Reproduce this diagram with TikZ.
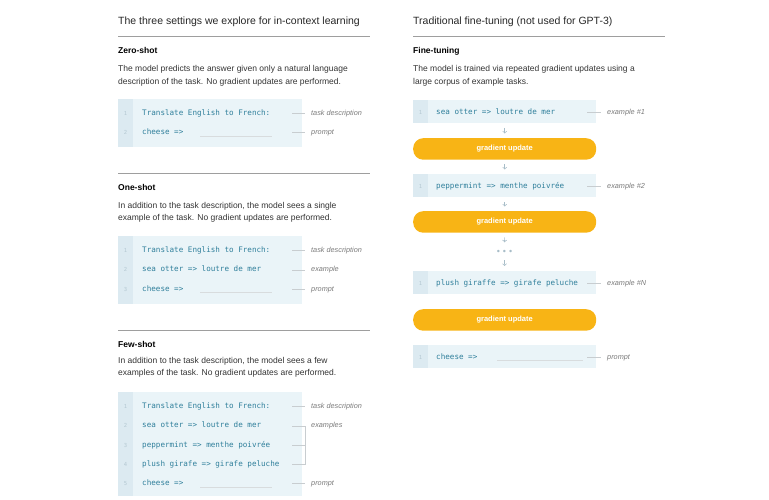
\documentclass[tikz,border=0pt]{standalone}
\usepackage{fontspec}
\setmainfont{Liberation Sans}
\setmonofont{DejaVu Sans Mono}
\usetikzlibrary{calc}

\definecolor{boxbg}{HTML}{EAF4F8}
\definecolor{gutterbg}{HTML}{DCEAF1}
\definecolor{codeblue}{HTML}{2F7F9B}
\definecolor{numgray}{HTML}{B4C8D2}
\definecolor{notegray}{HTML}{7A7A7A}
\definecolor{linegray}{HTML}{C8CDD0}
\definecolor{rulegray}{HTML}{9E9E9E}
\definecolor{gradorange}{HTML}{F8B415}
\definecolor{arrowgray}{HTML}{A8BDC8}

\begin{document}
\begin{tikzpicture}[x=1pt,y=-1pt,
	heading/.style={anchor=base west, inner sep=0, font=\fontsize{10.5}{12}\selectfont, text=black!85},
	setting/.style={anchor=base west, inner sep=0, font=\fontsize{8.5}{10}\selectfont\bfseries},
	para/.style={anchor=base west, inner sep=0, align=left, font=\fontsize{8.5}{12.3}\selectfont, text=black!80},
	rule/.style={rulegray, line width=0.7pt},
	codebox/.style={anchor=north west, inner sep=0, minimum width=184, fill=boxbg},
	gutter/.style={anchor=north west, inner sep=0, minimum width=15, fill=gutterbg},
	code/.style={anchor=base west, inner sep=0, text height=5.8pt, text depth=1.6pt, font=\ttfamily\fontsize{7.6}{9}\selectfont, text=codeblue},
	lnum/.style={anchor=base, inner sep=0, font=\ttfamily\fontsize{5.5}{7}\selectfont, text=numgray},
	note/.style={anchor=base west, inner sep=0, text height=5.5pt, text depth=1.5pt, font=\fontsize{7.3}{9}\selectfont\itshape, text=notegray},
	noteline/.style={linegray, line width=0.6pt},
	blank/.style={linegray!70, line width=0.5pt},
	pill/.style={anchor=north west, inner sep=0, minimum width=183, minimum height=21.5, rounded corners=10pt, fill=gradorange, text=white, font=\fontsize{7.5}{9}\selectfont\bfseries},
	flow/.style={arrowgray, ->, line width=0.7pt, shorten <=4.5pt, shorten >=4.5pt}]

	\useasboundingbox (0,0) rectangle (769,500);

	% left column: in-context learning
	\node[heading] (lhead) at (118,24.5) {The three settings we explore for in-context learning};
	\draw[rule] (118,36.5) -- (370,36.5);

	% zero-shot
	\node[setting] (zs) at (118,54) {Zero-shot};
	\node[para] (zp) at (118,84.3) {The model predicts the answer given only a natural language\\description of the task. No gradient updates are performed.};
	\node[codebox, minimum height=48] (zbox) at (118,99) {};
	\node[gutter, minimum height=48] (zgut) at (zbox.north west) {};
	\node[lnum] (zl1) at (125.5,115.5) {1};
	\node[code] (z1) at (142,115.5) {Translate English to French:};
	\node[lnum] (zl2) at (125.5,134.8) {2};
	\node[code] (z2) at (142,134.8) {cheese =>};
	\draw[blank] ($(z2.base west)+(58,1.5)$) -- ++(72,0);
	\node[note] (zn1) at (311,115.5) {task description};
	\node[note] (zn2) at (311,134.8) {prompt};
	\draw[noteline] ($(zbox.east |- zn1)+(-10,0)$) -- ($(zn1.west)+(-6,0)$);
	\draw[noteline] ($(zbox.east |- zn2)+(-10,0)$) -- ($(zn2.west)+(-6,0)$);

	\draw[rule] (118,173) -- (370,173);

	% one-shot
	\node[setting] (os) at (118,190.5) {One-shot};
	\node[para] (op) at (118,220.3) {In addition to the task description, the model sees a single\\example of the task. No gradient updates are performed.};
	\node[codebox, minimum height=68] (obox) at (118,236) {};
	\node[gutter, minimum height=68] (ogut) at (obox.north west) {};
	\node[lnum] (ol1) at (125.5,252.5) {1};
	\node[code] (o1) at (142,252.5) {Translate English to French:};
	\node[lnum] (ol2) at (125.5,271.8) {2};
	\node[code] (o2) at (142,271.8) {sea otter => loutre de mer};
	\node[lnum] (ol3) at (125.5,291.1) {3};
	\node[code] (o3) at (142,291.1) {cheese =>};
	\draw[blank] ($(o3.base west)+(58,1.5)$) -- ++(72,0);
	\node[note] (on1) at (311,252.5) {task description};
	\node[note] (on2) at (311,271.8) {example};
	\node[note] (on3) at (311,291.1) {prompt};
	\draw[noteline] ($(obox.east |- on1)+(-10,0)$) -- ($(on1.west)+(-6,0)$);
	\draw[noteline] ($(obox.east |- on2)+(-10,0)$) -- ($(on2.west)+(-6,0)$);
	\draw[noteline] ($(obox.east |- on3)+(-10,0)$) -- ($(on3.west)+(-6,0)$);

	\draw[rule] (118,330) -- (370,330);

	% few-shot
	\node[setting] (fs) at (118,347) {Few-shot};
	\node[para] (fp) at (118,375.5) {In addition to the task description, the model sees a few\\examples of the task. No gradient updates are performed.};
	\node[codebox, minimum height=104] (fbox) at (118,392) {};
	\node[gutter, minimum height=104] (fgut) at (fbox.north west) {};
	\node[lnum] (fl1) at (125.5,408.5) {1};
	\node[code] (f1) at (142,408.5) {Translate English to French:};
	\node[lnum] (fl2) at (125.5,427.8) {2};
	\node[code] (f2) at (142,427.8) {sea otter => loutre de mer};
	\node[lnum] (fl3) at (125.5,447.1) {3};
	\node[code] (f3) at (142,447.1) {peppermint => menthe poivrée};
	\node[lnum] (fl4) at (125.5,466.4) {4};
	\node[code] (f4) at (142,466.4) {plush girafe => girafe peluche};
	\node[lnum] (fl5) at (125.5,485.7) {5};
	\node[code] (f5) at (142,485.7) {cheese =>};
	\draw[blank] ($(f5.base west)+(58,1.5)$) -- ++(72,0);
	\node[note] (fn1) at (311,408.5) {task description};
	\node[note] (fn2) at (311,427.8) {examples};
	\node[note] (fn5) at (311,485.7) {prompt};
	\coordinate (fbr) at ($(fbox.east)+(3,0)$);
	\draw[noteline] ($(fbox.east |- fn1)+(-10,0)$) -- ($(fn1.west)+(-6,0)$);
	\draw[noteline] ($(fbox.east |- fn2)+(-10,0)$) -- ($(fn2.west)+(-6,0)$);
	\draw[noteline] ($(fbox.east |- f3)+(-10,0)$) -- (fbr |- f3);
	\draw[noteline] ($(fbox.east |- f4)+(-10,0)$) -- (fbr |- f4) -- (fbr |- fn2);
	\draw[noteline] ($(fbox.east |- fn5)+(-10,0)$) -- ($(fn5.west)+(-6,0)$);

	% right column: fine-tuning
	\node[heading] (rhead) at (413,24.5) {Traditional fine-tuning (not used for GPT-3)};
	\draw[rule] (413,36.5) -- (665,36.5);
	\node[setting] (ft) at (413,54) {Fine-tuning};
	\node[para] (ftp) at (413,84.3) {The model is trained via repeated gradient updates using a\\large corpus of example tasks.};

	\node[codebox, minimum width=183, minimum height=23] (ex1) at (413,100) {};
	\node[gutter, minimum height=23] (g1) at (ex1.north west) {};
	\node[lnum] (n1) at (420.5,114.5) {1};
	\node[code] (c1) at (436,114.5) {sea otter => loutre de mer};
	\node[note] (e1) at (607,114.5) {example \#1};
	\draw[noteline] ($(ex1.east |- e1)+(-9,0)$) -- ($(e1.west)+(-6,0)$);

	\node[pill] (up1) at (413,138) {gradient update};

	\node[codebox, minimum width=183, minimum height=23] (ex2) at (413,174) {};
	\node[gutter, minimum height=23] (g2) at (ex2.north west) {};
	\node[lnum] (n2) at (420.5,188.5) {1};
	\node[code] (c2) at (436,188.5) {peppermint => menthe poivrée};
	\node[note] (e2) at (607,188.5) {example \#2};
	\draw[noteline] ($(ex2.east |- e2)+(-9,0)$) -- ($(e2.west)+(-6,0)$);

	\node[pill] (up2) at (413,211) {gradient update};
	\node[inner sep=0, minimum height=10, text=arrowgray, font=\fontsize{9}{9}\selectfont] (dots) at (504.5,252) {\textbullet\hspace{3pt}\textbullet\hspace{3pt}\textbullet};

	\node[codebox, minimum width=183, minimum height=23] (ex3) at (413,271) {};
	\node[gutter, minimum height=23] (g3) at (ex3.north west) {};
	\node[lnum] (n3) at (420.5,285.5) {1};
	\node[code] (c3) at (436,285.5) {plush giraffe => girafe peluche};
	\node[note] (e3) at (607,285.5) {example \#N};
	\draw[noteline] ($(ex3.east |- e3)+(-9,0)$) -- ($(e3.west)+(-6,0)$);

	\node[pill] (up3) at (413,309) {gradient update};

	\node[codebox, minimum width=183, minimum height=23] (ex4) at (413,345) {};
	\node[gutter, minimum height=23] (g4) at (ex4.north west) {};
	\node[lnum] (n4) at (420.5,359.5) {1};
	\node[code] (c4) at (436,359.5) {cheese =>};
	\draw[blank] ($(c4.base west)+(61,1)$) -- ++(86,0);
	\node[note] (e4) at (607,359.5) {prompt};
	\draw[noteline] ($(ex4.east |- e4)+(-9,0)$) -- ($(e4.west)+(-6,0)$);

	\draw[flow] (ex1.south) -- (up1.north);
	\draw[flow] (up1.south) -- (ex2.north);
	\draw[flow] (ex2.south) -- (up2.north);
	\draw[flow] (up2.south) -- (dots.north);
	\draw[flow, shorten <=3pt, shorten >=5pt] (dots.south) -- (ex3.north);
\end{tikzpicture}
\end{document}
